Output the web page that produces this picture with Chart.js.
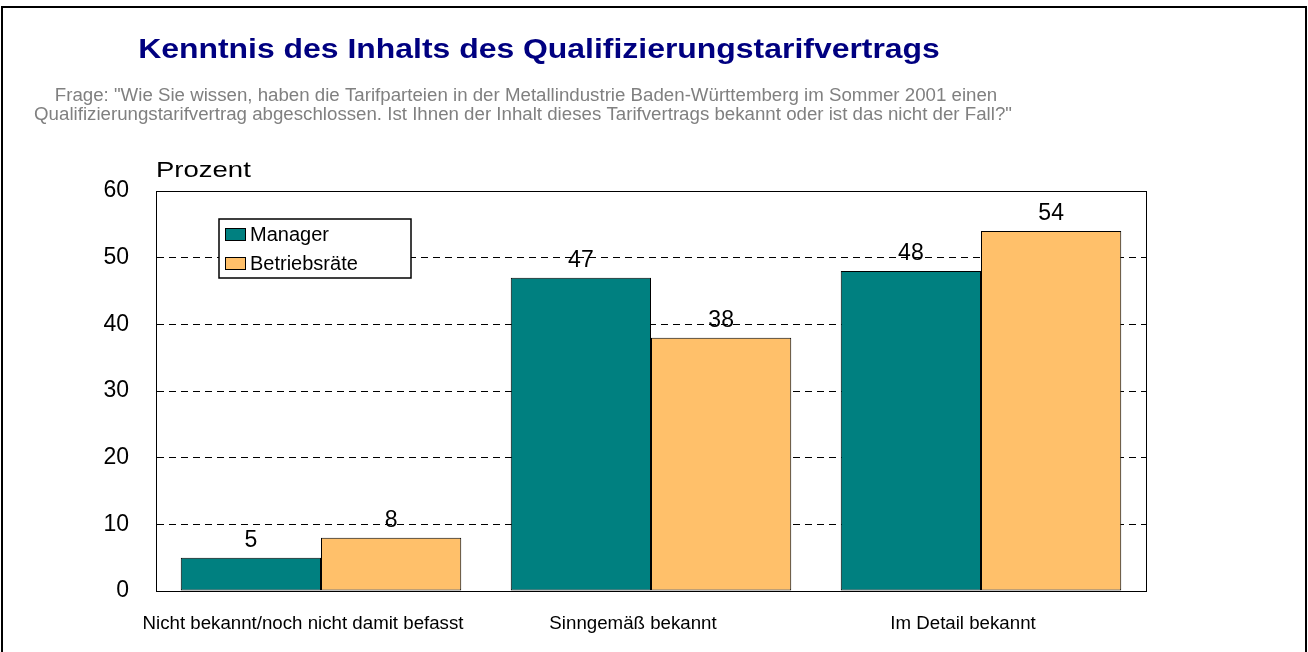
<!DOCTYPE html>
<html>
<head>
<meta charset="utf-8">
<script src="https://cdn.jsdelivr.net/npm/chart.js@4/dist/chart.umd.min.js"></script>
<style>
  html, body { margin: 0; padding: 0; background: #fff; }
  #wrap { position: relative; width: 1308px; height: 652px; }
</style>
</head>
<body>
<div id="wrap"><canvas id="chart" width="1308" height="652"></canvas></div>
<script>
const categories = ['Nicht bekannt/noch nicht damit befasst', 'Sinngemäß bekannt', 'Im Detail bekannt'];
const managerValues = [5, 47, 48];
const betriebsraeteValues = [8, 38, 54];
const seriesNames = ['Manager', 'Betriebsräte'];
const yTicks = [0, 10, 20, 30, 40, 50, 60];

const titleText = 'Kenntnis des Inhalts des Qualifizierungstarifvertrags';
const questionLines = [
    'Frage: "Wie Sie wissen, haben die Tarifparteien in der Metallindustrie Baden-Württemberg im Sommer 2001 einen',
    'Qualifizierungstarifvertrag abgeschlossen. Ist Ihnen der Inhalt dieses Tarifvertrags bekannt oder ist das nicht der Fall?"'
];
const FONT = '"Liberation Sans", Arial, sans-serif';

// text drawn a bit wider than the font, like the stretched original
function wideText(ctx, text, x, y, font, color, sx, align) {
    ctx.save();
    ctx.translate(x, y);
    ctx.scale(sx, 1);
    ctx.font = font;
    ctx.fillStyle = color;
    ctx.textAlign = align;
    ctx.textBaseline = 'alphabetic';
    ctx.fillText(text, 0, 0);
    ctx.restore();
}

// titles, frame, plot box, value labels and legend
const decorations = {
    id: 'decorations',
    beforeDraw(chart) {
        const ctx = chart.ctx;
        ctx.save();
        ctx.fillStyle = '#fff';
        ctx.fillRect(0, 0, chart.width, chart.height);
        ctx.strokeStyle = '#000';
        ctx.lineWidth = 2;
        ctx.beginPath();
        ctx.moveTo(2, 660);
        ctx.lineTo(2, 7);
        ctx.lineTo(1306, 7);
        ctx.lineTo(1306, 660);
        ctx.stroke();

        wideText(ctx, titleText, 539, 58, 'bold 28px ' + FONT, '#000080', 1.14, 'center');
        ctx.textAlign = 'center';
        ctx.textBaseline = 'alphabetic';
        ctx.fillStyle = '#808080';
        ctx.font = '18.7px ' + FONT;
        ctx.fillText(questionLines[0], 526, 101);
        ctx.fillText(questionLines[1], 523, 120);

        wideText(ctx, 'Prozent', chart.chartArea.left, 177, '22px ' + FONT, '#000', 1.25, 'left');
        ctx.restore();
    },
    afterDatasetsDraw(chart) {
        const ctx = chart.ctx;
        const area = chart.chartArea;
        ctx.save();
        ctx.strokeStyle = '#000';
        ctx.lineWidth = 1;
        ctx.strokeRect(area.left + 0.5, area.top + 0.5, area.right - area.left, area.bottom - area.top);

        ctx.fillStyle = '#000';
        ctx.font = '23px ' + FONT;
        ctx.textAlign = 'center';
        ctx.textBaseline = 'alphabetic';
        chart.data.datasets.forEach((ds, i) => {
            chart.getDatasetMeta(i).data.forEach((bar, j) => {
                ctx.fillText(String(ds.data[j]), bar.x, bar.y - 11);
            });
        });

        // legend box
        const lx = 219, ly = 219, lw = 192, lh = 59;
        ctx.fillStyle = '#fff';
        ctx.fillRect(lx, ly, lw, lh);
        ctx.lineWidth = 1.5;
        ctx.strokeRect(lx, ly, lw, lh);
        ctx.font = '20px ' + FONT;
        ctx.textAlign = 'left';
        ctx.textBaseline = 'middle';
        chart.data.datasets.forEach((ds, i) => {
            const cy = ly + 15 + i * 29;
            ctx.fillStyle = ds.backgroundColor;
            ctx.fillRect(lx + 6, cy - 6, 21, 13);
            ctx.lineWidth = 1;
            ctx.strokeStyle = '#000';
            ctx.strokeRect(lx + 6.5, cy - 5.5, 20, 12);
            ctx.fillStyle = '#000';
            ctx.fillText(ds.label, lx + 31, cy + 1);
        });
        ctx.restore();
    }
};

new Chart(document.getElementById('chart'), {
    type: 'bar',
    data: {
        labels: categories,
        datasets: [
            {
                label: seriesNames[0],
                data: managerValues,
                backgroundColor: '#008080',
                borderColor: '#000',
                borderWidth: 1,
                borderSkipped: false
            },
            {
                label: seriesNames[1],
                data: betriebsraeteValues,
                backgroundColor: '#FFC06A',
                borderColor: '#000',
                borderWidth: 1,
                borderSkipped: false
            }
        ]
    },
    options: {
        responsive: false,
        animation: false,
        events: [],
        layout: { padding: { top: 191, right: 162, left: 0, bottom: 0 } },
        datasets: { bar: { categoryPercentage: 0.85, barPercentage: 1 } },
        plugins: {
            legend: { display: false },
            title: { display: false },
            tooltip: { enabled: false }
        },
        scales: {
            x: {
                grid: { display: false },
                border: { display: true, color: '#000', width: 1 },
                ticks: { color: '#000', font: { family: FONT, size: 18.7 }, padding: 14, maxRotation: 0, labelOffset: -18 },
                afterFit(scale) { scale.height = 61; }
            },
            y: {
                min: 0,
                max: 60,
                afterBuildTicks(scale) { scale.ticks = yTicks.map(v => ({ value: v })); },
                grid: { color: '#000', lineWidth: 1, drawTicks: false },
                border: { display: true, color: '#000', width: 1, dash: [7, 5] },
                ticks: { color: '#000', font: { family: FONT, size: 23 }, padding: 27 },
                afterFit(scale) { scale.width = 156; }
            }
        }
    },
    plugins: [decorations]
});
</script>
</body>
</html>
